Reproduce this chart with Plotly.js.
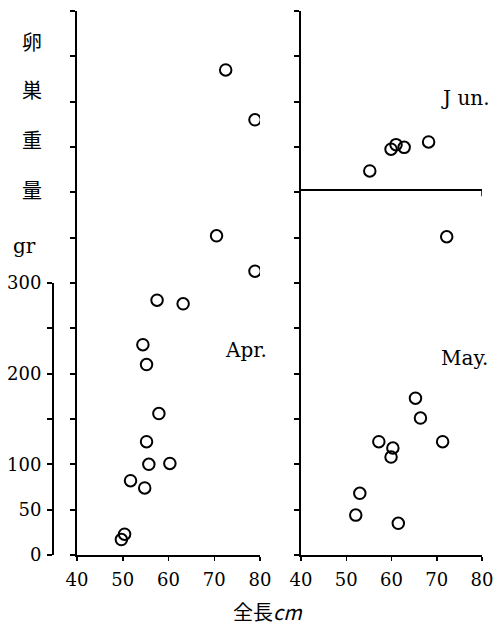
<!DOCTYPE html>
<html>
<head>
<meta charset="utf-8">
<script src="https://cdn.plot.ly/plotly-3.0.1.min.js"></script>
<style>html,body{margin:0;padding:0;background:#fff;}#chart{width:494px;height:629px;}</style>
</head>
<body>
<div id="chart"></div>
<script>
// Data (total length cm, ovary weight gr)
const aprLength = [72.5, 78.9, 70.5, 78.9, 57.5, 63.2, 54.4, 55.2, 57.9, 55.2, 55.7, 60.3, 51.7, 54.8, 50.4, 49.7];
const aprWeight = [535, 480, 352, 313, 281, 277, 232, 210, 156, 125, 100, 101, 82, 74, 23, 17];
const mayLength = [72.2, 65.3, 66.4, 57.2, 60.3, 59.9, 71.3, 53.0, 52.1, 61.5];
const mayWeight = [351, 173, 151, 125, 118, 108, 125, 68, 44, 35];
const junLength = [55.2, 59.9, 61.0, 62.8, 68.2];
const junWeight = [21, 45, 50, 47, 53];
const xTicks = [40, 50, 60, 70, 80];
const scaleTickVals = [0, 50, 100, 150, 200, 250, 300];
const scaleTickText = ['0', '50', '100', '', '200', '', '300'];

const W = 494, H = 629;
const px = v => v / W;
const py = v => 1 - v / H;

const serif = 'DejaVu Serif, Liberation Serif, serif';
const cjk = 'Noto Sans CJK JP, sans-serif';

const marker = {symbol: 'circle-open', size: 11.5, color: '#000', line: {width: 2, color: '#000'}};

const traces = [
  {x: [40], y: [0], xaxis: 'x', yaxis: 'y4', type: 'scatter', mode: 'markers', marker: {opacity: 0}, hoverinfo: 'skip', showlegend: false},
  {x: aprLength, y: aprWeight, xaxis: 'x', yaxis: 'y', type: 'scatter', mode: 'markers', marker: marker, name: 'Apr.'},
  {x: mayLength, y: mayWeight, xaxis: 'x2', yaxis: 'y2', type: 'scatter', mode: 'markers', marker: marker, name: 'May.'},
  {x: junLength, y: junWeight, xaxis: 'x2', yaxis: 'y3', type: 'scatter', mode: 'markers', marker: marker, name: 'Jun.'}
];

const panelBottom = py(555), panelTop = py(11);

const xCommon = {
  range: [40, 80], tickvals: xTicks, ticktext: xTicks.map(String),
  showline: true, linewidth: 2, linecolor: '#000', ticks: 'outside', ticklen: 4, tickwidth: 1.5, tickcolor: '#000',
  showgrid: false, zeroline: false, fixedrange: true, automargin: false,
  tickfont: {family: serif, size: 18, color: '#000'}, ticklabelstandoff: 3
};
const yCommon = {
  range: [0, 600], dtick: 50, tick0: 0, showticklabels: false,
  showline: true, linewidth: 2, linecolor: '#000', ticks: 'outside', ticklen: 5, tickwidth: 2, tickcolor: '#000',
  showgrid: false, zeroline: false, fixedrange: true, automargin: false,
  domain: [panelBottom, panelTop]
};

const ann = (text, x, y, font) => ({text: text, x: px(x), y: py(y), xref: 'paper', yref: 'paper', showarrow: false,
  xanchor: 'center', yanchor: 'middle', font: font});
const cjkFont = {family: cjk, size: 20, color: '#000'};
const serifFont = {family: serif, size: 20, color: '#000'};

const layout = {
  width: W, height: H,
  margin: {l: 0, r: 0, t: 0, b: 0, pad: 0},
  paper_bgcolor: '#fff', plot_bgcolor: 'rgba(0,0,0,0)',
  showlegend: false,
  xaxis: Object.assign({}, xCommon, {domain: [px(77), px(260)], anchor: 'y'}),
  xaxis2: Object.assign({}, xCommon, {domain: [px(301), px(482)], anchor: 'y2'}),
  yaxis: Object.assign({}, yCommon, {anchor: 'x'}),
  yaxis2: Object.assign({}, yCommon, {anchor: 'x2'}),
  yaxis3: {overlaying: 'y2', anchor: 'x2', range: [-402.6, 197.4], visible: false, fixedrange: true,
           showgrid: false, zeroline: false, domain: [panelBottom, panelTop]},
  yaxis4: {
    domain: [panelBottom, py(283)], range: [0, 300], anchor: 'free', position: px(53),
    tickvals: scaleTickVals, ticktext: scaleTickText,
    showline: true, linewidth: 2, linecolor: '#000', ticks: 'outside', ticklen: 5, tickwidth: 2, tickcolor: '#000',
    showgrid: false, zeroline: false, fixedrange: true, automargin: false,
    tickfont: {family: serif, size: 18, color: '#000'}, ticklabelstandoff: 2
  },
  shapes: [
    {type: 'line', xref: 'x2', yref: 'y3', x0: 38.4, x1: 80, y0: 0, y1: 0, line: {color: '#000', width: 2}},
    {type: 'line', xref: 'x2', yref: 'y3', x0: 80, x1: 80, y0: 0, y1: -7, line: {color: '#000', width: 1.5}}
  ],
  annotations: [
    ann('卵', 32, 41, cjkFont),
    ann('巣', 32, 90, cjkFont),
    ann('重', 32, 139, cjkFont),
    ann('量', 32, 189, cjkFont),
    ann('gr', 24, 246, serifFont),
    ann('Apr.', 246, 350, serifFont),
    ann('May.', 464, 358, serifFont),
    ann('J un.', 465, 98, serifFont),
    ann('全長<i>cm</i>', 268, 611, {family: cjk, size: 20, color: '#000'})
  ]
};

Plotly.newPlot('chart', traces, layout, {staticPlot: true, displayModeBar: false});
</script>
</body>
</html>
